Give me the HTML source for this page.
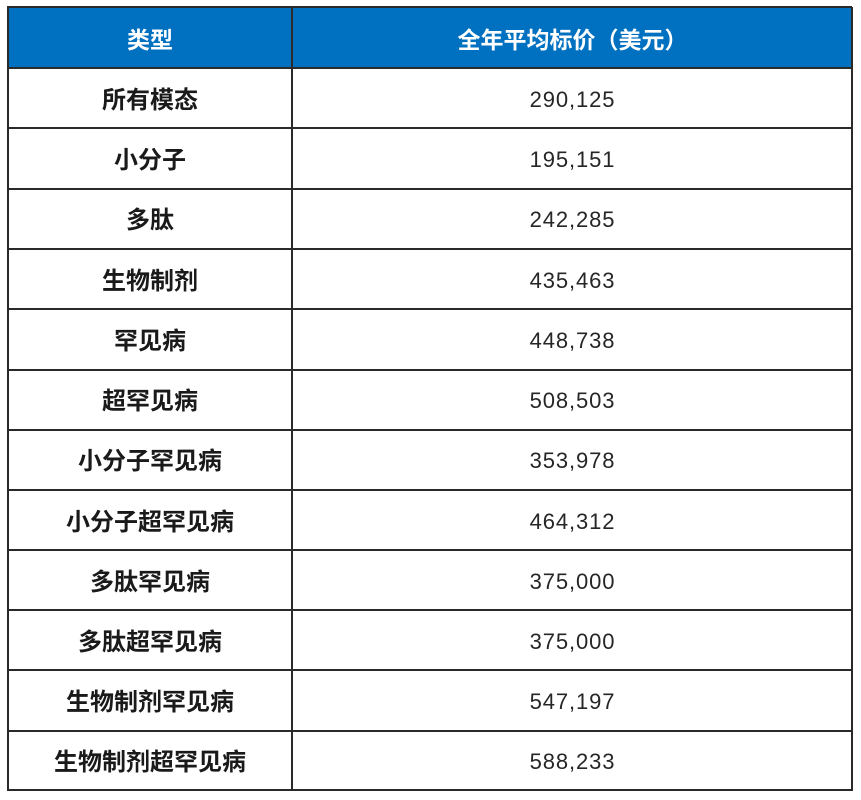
<!DOCTYPE html>
<html>
<head>
<meta charset="utf-8">
<style>
html,body{margin:0;padding:0;background:#fff;width:861px;height:800px;overflow:hidden;}
.wrap{position:relative;width:861px;height:800px;}
.hdr{position:absolute;left:7px;top:7px;width:845px;height:61px;background:#0070c0;}
.cell{position:absolute;display:flex;align-items:center;justify-content:center;white-space:nowrap;}
.h{color:#fff;font-family:"Liberation Sans","Noto Sans CJK SC",sans-serif;font-weight:bold;font-size:23px;}
.l{color:#1a1a1a;font-family:"Liberation Sans","Noto Sans CJK SC",sans-serif;font-weight:bold;font-size:24px;padding-bottom:2px;box-sizing:border-box;}
.n{color:#262626;font-family:"Liberation Sans","Noto Sans CJK SC",sans-serif;font-size:22px;letter-spacing:0.9px;padding-top:3px;box-sizing:border-box;}
.hl{position:absolute;left:7px;width:845px;height:2px;background:#2a2a2a;}
.vl{position:absolute;top:7px;width:2px;height:784px;background:#2a2a2a;}
</style>
</head>
<body>
<div class="wrap">
<div class="hdr"></div>
<div class="cell h" style="left:8px;top:8px;width:284px;height:60px;">类型</div>
<div class="cell h" style="left:293px;top:8px;width:559px;height:60px;">全年平均标价（美元）</div>

<div class="cell l" style="left:8px;top:68px;width:284px;height:60px;">所有模态</div>
<div class="cell n" style="left:293px;top:68px;width:559px;height:60px;">290,125</div>

<div class="cell l" style="left:8px;top:128px;width:284px;height:60px;">小分子</div>
<div class="cell n" style="left:293px;top:128px;width:559px;height:60px;">195,151</div>

<div class="cell l" style="left:8px;top:188.5px;width:284px;height:60px;">多肽</div>
<div class="cell n" style="left:293px;top:188.5px;width:559px;height:60px;">242,285</div>

<div class="cell l" style="left:8px;top:249px;width:284px;height:60px;">生物制剂</div>
<div class="cell n" style="left:293px;top:249px;width:559px;height:60px;">435,463</div>

<div class="cell l" style="left:8px;top:309px;width:284px;height:60px;">罕见病</div>
<div class="cell n" style="left:293px;top:309px;width:559px;height:60px;">448,738</div>

<div class="cell l" style="left:8px;top:369.5px;width:284px;height:60px;">超罕见病</div>
<div class="cell n" style="left:293px;top:369.5px;width:559px;height:60px;">508,503</div>

<div class="cell l" style="left:8px;top:429.5px;width:284px;height:60px;">小分子罕见病</div>
<div class="cell n" style="left:293px;top:429.5px;width:559px;height:60px;">353,978</div>

<div class="cell l" style="left:8px;top:490px;width:284px;height:60px;">小分子超罕见病</div>
<div class="cell n" style="left:293px;top:490px;width:559px;height:60px;">464,312</div>

<div class="cell l" style="left:8px;top:550px;width:284px;height:60px;">多肽罕见病</div>
<div class="cell n" style="left:293px;top:550px;width:559px;height:60px;">375,000</div>

<div class="cell l" style="left:8px;top:610px;width:284px;height:60px;">多肽超罕见病</div>
<div class="cell n" style="left:293px;top:610px;width:559px;height:60px;">375,000</div>

<div class="cell l" style="left:8px;top:670px;width:284px;height:60px;">生物制剂罕见病</div>
<div class="cell n" style="left:293px;top:670px;width:559px;height:60px;">547,197</div>

<div class="cell l" style="left:8px;top:731px;width:284px;height:59px;">生物制剂超罕见病</div>
<div class="cell n" style="left:293px;top:731px;width:559px;height:59px;">588,233</div>

<!-- horizontal lines -->
<div class="hl" style="top:6px;"></div>
<div class="hl" style="top:67px;"></div>
<div class="hl" style="top:127px;"></div>
<div class="hl" style="top:187.5px;"></div>
<div class="hl" style="top:248px;"></div>
<div class="hl" style="top:308px;"></div>
<div class="hl" style="top:368.5px;"></div>
<div class="hl" style="top:428.5px;"></div>
<div class="hl" style="top:489px;"></div>
<div class="hl" style="top:549px;"></div>
<div class="hl" style="top:609px;"></div>
<div class="hl" style="top:669px;"></div>
<div class="hl" style="top:730px;"></div>
<div class="hl" style="top:789px;"></div>
<!-- vertical lines -->
<div class="vl" style="left:6.5px;"></div>
<div class="vl" style="left:291px;"></div>
<div class="vl" style="left:851px;"></div>
</div>
</body>
</html>
